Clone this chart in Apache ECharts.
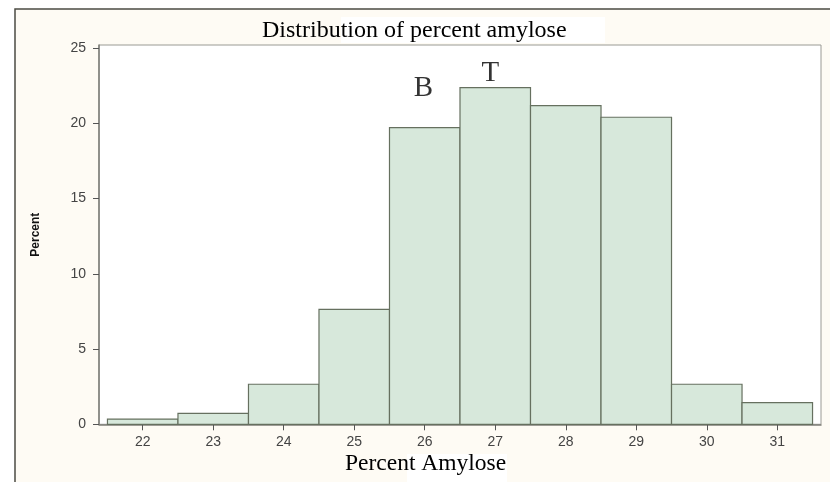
<!DOCTYPE html>
<html>
<head>
<meta charset="utf-8">
<script src="https://cdn.jsdelivr.net/npm/echarts@6/dist/echarts.min.js"></script>
<style>html,body{margin:0;padding:0;background:#fff;}#c{width:830px;height:482px;}</style>
</head>
<body>
<div id="c"></div>
<script>
const binCenters = [22, 23, 24, 25, 26, 27, 28, 29, 30, 31];
const percents = [0.35, 0.73, 2.66, 7.64, 19.71, 22.37, 21.17, 20.40, 2.66, 1.44];
const xTicks = [22, 23, 24, 25, 26, 27, 28, 29, 30, 31];
const yTicks = [0, 5, 10, 15, 20, 25];
const annotations = [["B", 25.98, 22.35], ["T", 26.93, 23.34]];

const chart = echarts.init(document.getElementById('c'));
const serif = '"Liberation Serif", "Times New Roman", serif';
const sans = '"Liberation Sans", Arial, sans-serif';

chart.setOption({
  animation: false,
  backgroundColor: '#fff',
  graphic: [
    { type: 'rect', z: -10, shape: { x: 15, y: 9, width: 830, height: 490 },
      style: { fill: '#fefbf4', stroke: '#4b4b43', lineWidth: 1.5 } },
    { type: 'rect', z: -9, shape: { x: 341, y: 17, width: 264, height: 26 }, style: { fill: '#fff' } },
    { type: 'rect', z: -9, shape: { x: 407, y: 454, width: 100, height: 30 }, style: { fill: '#fff' } },
    { type: 'text', left: 262, top: 19, style: { text: 'Distribution of percent amylose', font: '24px ' + serif, fill: '#000' } },
    { type: 'text', left: 345, top: 452, style: { text: 'Percent Amylose', font: '23.5px ' + serif, fill: '#000' } }
  ],
  grid: { left: 99, top: 45, right: 9, bottom: 57.7, show: true, backgroundColor: '#fff', borderColor: '#9a9a94', borderWidth: 1 },
  xAxis: {
    type: 'value', min: 21.38, max: 31.62,
    splitLine: { show: false },
    axisLine: { show: true, lineStyle: { color: '#7d7d77', width: 1.5 } },
    axisTick: { show: true, length: 6, customValues: xTicks, lineStyle: { color: '#555' } },
    axisLabel: { customValues: xTicks, margin: 11, color: '#444', fontSize: 14, fontFamily: sans }
  },
  yAxis: {
    type: 'value', min: 0, max: 25.2,
    name: 'Percent', nameLocation: 'middle', nameGap: 57, nameRotate: 90,
    nameTextStyle: { fontFamily: sans, fontWeight: 'bold', fontSize: 12, color: '#111' },
    splitLine: { show: false },
    axisLine: { show: true, lineStyle: { color: '#7d7d77', width: 1.5 } },
    axisTick: { show: true, length: 6, customValues: yTicks, lineStyle: { color: '#555' } },
    axisLabel: { customValues: yTicks, margin: 13, color: '#444', fontSize: 14, fontFamily: sans }
  },
  series: [
    {
      type: 'custom',
      data: binCenters.map((c, i) => [c, percents[i]]),
      renderItem: function (params, api) {
        const p0 = api.coord([api.value(0) - 0.5, api.value(1)]);
        const p1 = api.coord([api.value(0) + 0.5, 0]);
        return { type: 'rect', shape: { x: p0[0], y: p0[1], width: p1[0] - p0[0], height: p1[1] - p0[1] },
          style: { fill: '#d7e8db', stroke: '#66705f', lineWidth: 1.2 } };
      }
    },
    {
      type: 'scatter', symbolSize: 0,
      data: annotations.map(a => ({ value: [a[1], a[2]], name: a[0] })),
      label: { show: true, position: 'inside', formatter: '{b}', fontFamily: serif, fontSize: 29, color: '#000' }
    }
  ]
});
</script>
</body>
</html>
